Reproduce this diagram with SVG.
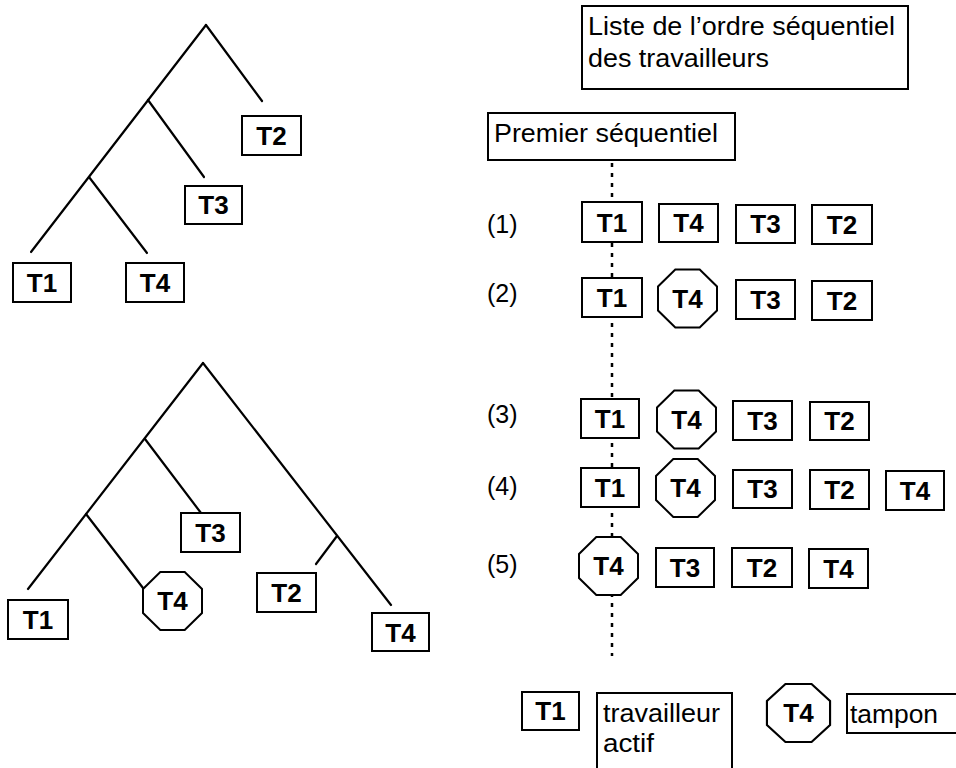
<svg xmlns="http://www.w3.org/2000/svg" xmlns:xlink="http://www.w3.org/1999/xlink" width="956" height="768" viewBox="0 0 956 768">
<style>
.bg{fill:#fff}
.box{fill:#fff;stroke:#000;stroke-width:2}
.oct{fill:#fff;stroke:#000;stroke-width:2}
.ln{stroke:#000;stroke-width:2.2;fill:none;stroke-linecap:round}
.dot{stroke:#000;stroke-width:2.5;fill:none;stroke-dasharray:4 6}
.lbl{font-family:"Liberation Sans",Arial,sans-serif;font-weight:bold;font-size:26px;text-anchor:middle;fill:#000}
.txt{font-family:"Liberation Sans",Arial,sans-serif;font-size:25px;fill:#000}
.num{font-family:"Liberation Sans",Arial,sans-serif;font-size:25px;fill:#000}
</style>
<defs>
<polygon id="oct" points="-12.2,-29 12.2,-29 29.5,-12 29.5,12 12.2,29 -12.2,29 -29.5,12 -29.5,-12"/>
</defs>
<rect class="bg" x="0" y="0" width="956" height="768"/>

<g id="connectors">
<line class="ln" x1="206" y1="25" x2="262" y2="101"/>
<line class="ln" x1="206" y1="25" x2="31" y2="252"/>
<line class="ln" x1="148" y1="100" x2="204" y2="177"/>
<line class="ln" x1="89" y1="177" x2="147" y2="253"/>
<line class="ln" x1="203" y1="363" x2="28" y2="589"/>
<line class="ln" x1="145" y1="439" x2="201" y2="513"/>
<line class="ln" x1="86" y1="514" x2="143" y2="588"/>
<line class="ln" x1="203" y1="363" x2="391" y2="605"/>
<line class="ln" x1="337" y1="536" x2="316" y2="564"/>
<line class="dot" x1="612" y1="163" x2="612" y2="656"/>
</g>

<g id="a_T2"><rect class="box" x="242" y="116" width="59" height="39"/><text class="lbl" x="271.5" y="145">T2</text></g>
<g id="a_T3"><rect class="box" x="185" y="186" width="57" height="38"/><text class="lbl" x="213.5" y="214">T3</text></g>
<g id="a_T1"><rect class="box" x="13" y="263" width="58" height="39"/><text class="lbl" x="42" y="292">T1</text></g>
<g id="a_T4"><rect class="box" x="126" y="263" width="58" height="39"/><text class="lbl" x="155" y="292">T4</text></g>

<g id="b_T3"><rect class="box" x="181" y="513" width="59" height="39"/><text class="lbl" x="210.5" y="542">T3</text></g>
<g id="b_T4oct"><use href="#oct" class="oct" transform="translate(172.5,601)"/><text class="lbl" x="172.5" y="610">T4</text></g>
<g id="b_T1"><rect class="box" x="8" y="600" width="60" height="39"/><text class="lbl" x="38" y="629">T1</text></g>
<g id="b_T2"><rect class="box" x="257" y="573" width="59" height="39"/><text class="lbl" x="286.5" y="602">T2</text></g>
<g id="b_T4"><rect class="box" x="372" y="613" width="57" height="38"/><text class="lbl" x="400.5" y="642">T4</text></g>

<g id="title"><rect class="box" x="582" y="6" width="326" height="83"/>
<text class="txt" x="588" y="35" textLength="307" lengthAdjust="spacingAndGlyphs">Liste de l’ordre séquentiel</text>
<text class="txt" x="588" y="67" textLength="181" lengthAdjust="spacingAndGlyphs">des travailleurs</text></g>
<g id="premier"><rect class="box" x="488" y="113" width="247" height="47"/>
<text class="txt" x="494" y="142" textLength="224" lengthAdjust="spacingAndGlyphs">Premier séquentiel</text></g>

<g id="labels">
<text class="num" x="487" y="233">(1)</text>
<text class="num" x="487" y="302">(2)</text>
<text class="num" x="487" y="423">(3)</text>
<text class="num" x="487" y="495">(4)</text>
<text class="num" x="487" y="573">(5)</text>
</g>

<g id="r1_T1"><rect class="box" x="582" y="202" width="60" height="40"/><text class="lbl" x="612" y="232">T1</text></g>
<g id="r1_T4"><rect class="box" x="659" y="204" width="59" height="38"/><text class="lbl" x="688.5" y="232">T4</text></g>
<g id="r1_T3"><rect class="box" x="736" y="205" width="59" height="38"/><text class="lbl" x="765.5" y="233">T3</text></g>
<g id="r1_T2"><rect class="box" x="812" y="205" width="60" height="39"/><text class="lbl" x="842" y="234">T2</text></g>

<g id="r2_T1"><rect class="box" x="582" y="278" width="60" height="39"/><text class="lbl" x="612" y="307">T1</text></g>
<g id="r2_T4"><use href="#oct" class="oct" transform="translate(687.5,298.5)"/><text class="lbl" x="687.5" y="307.5">T4</text></g>
<g id="r2_T3"><rect class="box" x="736" y="280" width="59" height="39"/><text class="lbl" x="765.5" y="309">T3</text></g>
<g id="r2_T2"><rect class="box" x="812" y="281" width="60" height="39"/><text class="lbl" x="842" y="310">T2</text></g>

<g id="r3_T1"><rect class="box" x="581" y="399" width="58" height="39"/><text class="lbl" x="610" y="428">T1</text></g>
<g id="r3_T4"><use href="#oct" class="oct" transform="translate(686.5,419.5)"/><text class="lbl" x="686.5" y="428.5">T4</text></g>
<g id="r3_T3"><rect class="box" x="733" y="401" width="59" height="39"/><text class="lbl" x="762.5" y="430">T3</text></g>
<g id="r3_T2"><rect class="box" x="810" y="402" width="59" height="38"/><text class="lbl" x="839.5" y="430">T2</text></g>

<g id="r4_T1"><rect class="box" x="581" y="468" width="58" height="39"/><text class="lbl" x="610" y="497">T1</text></g>
<g id="r4_T4"><use href="#oct" class="oct" transform="translate(685.5,488)"/><text class="lbl" x="685.5" y="497">T4</text></g>
<g id="r4_T3"><rect class="box" x="733" y="470" width="59" height="38"/><text class="lbl" x="762.5" y="498">T3</text></g>
<g id="r4_T2"><rect class="box" x="810" y="470" width="59" height="39"/><text class="lbl" x="839.5" y="499">T2</text></g>
<g id="r4_T4b"><rect class="box" x="886" y="471" width="58" height="39"/><text class="lbl" x="915" y="500">T4</text></g>

<g id="r5_T4"><use href="#oct" class="oct" transform="translate(608.5,566)"/><text class="lbl" x="608.5" y="575">T4</text></g>
<g id="r5_T3"><rect class="box" x="656" y="548" width="58" height="39"/><text class="lbl" x="685" y="577">T3</text></g>
<g id="r5_T2"><rect class="box" x="732" y="548" width="60" height="39"/><text class="lbl" x="762" y="577">T2</text></g>
<g id="r5_T4b"><rect class="box" x="809" y="549" width="59" height="39"/><text class="lbl" x="838.5" y="578">T4</text></g>

<g id="leg_T1"><rect class="box" x="522" y="692" width="57" height="38"/><text class="lbl" x="550.5" y="720">T1</text></g>
<g id="leg_actif"><rect class="box" x="597" y="693" width="135" height="90"/>
<text class="txt" x="603" y="722" textLength="117" lengthAdjust="spacingAndGlyphs">travailleur</text>
<text class="txt" x="603" y="752" textLength="51" lengthAdjust="spacingAndGlyphs">actif</text></g>
<g id="leg_T4"><use href="#oct" class="oct" transform="translate(798.5,713) scale(1.07,1)"/><text class="lbl" x="798.5" y="722">T4</text></g>
<g id="leg_tampon"><rect class="box" x="847" y="694" width="120" height="39"/>
<text class="txt" x="850" y="723" textLength="88" lengthAdjust="spacingAndGlyphs">tampon</text></g>
</svg>
